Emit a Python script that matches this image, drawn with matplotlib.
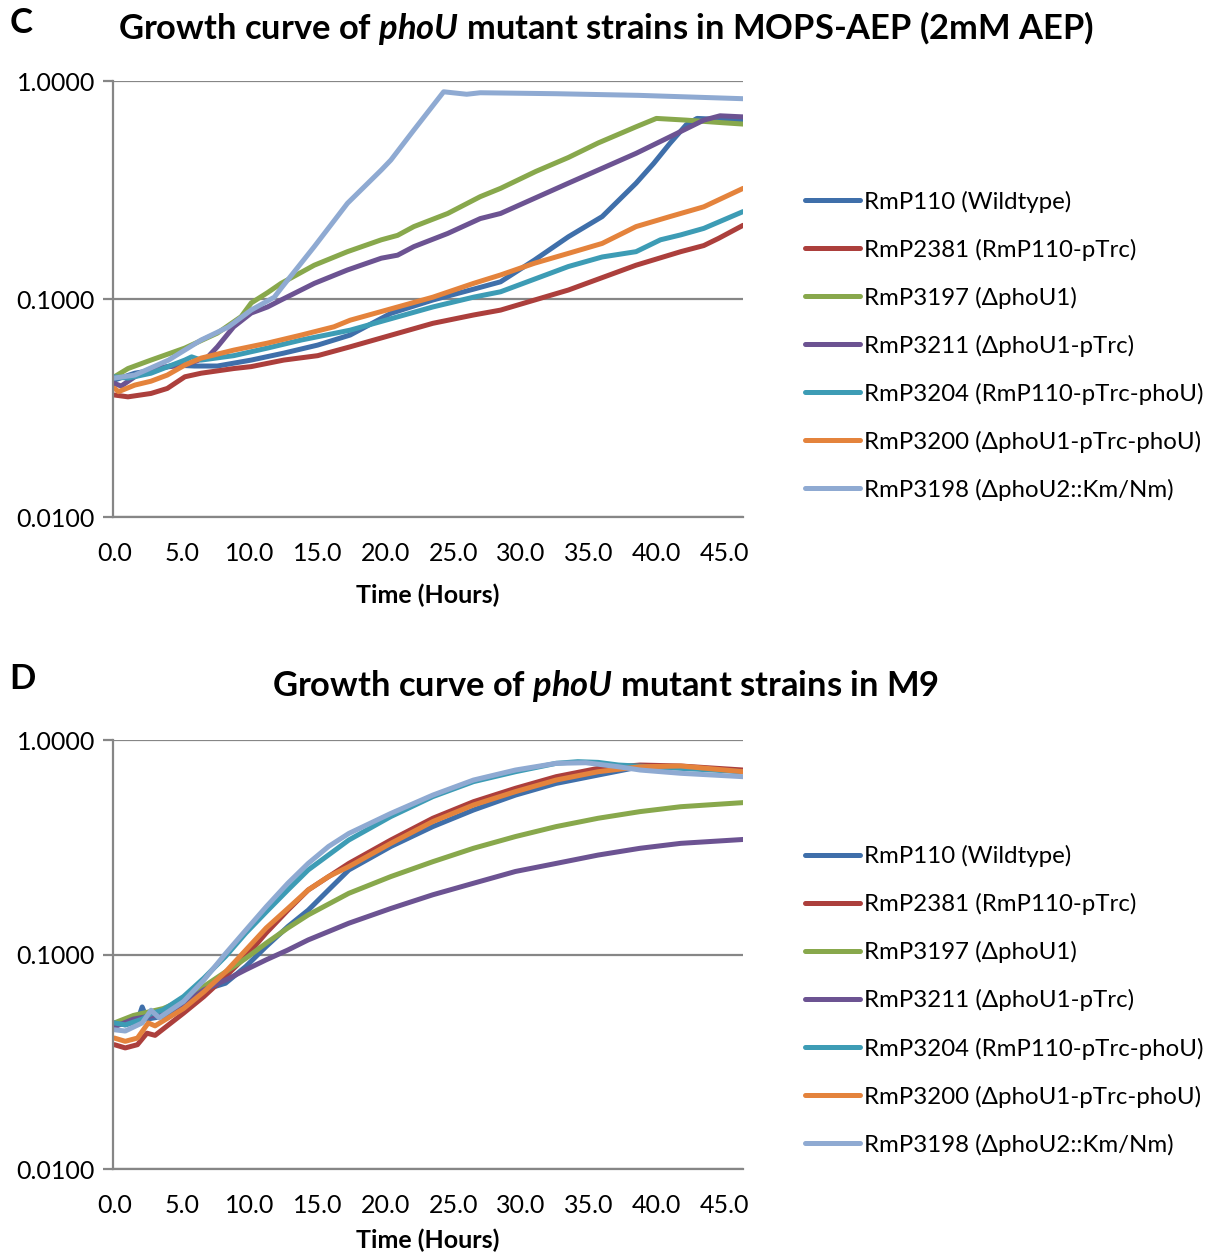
import matplotlib
matplotlib.use("Agg")
import matplotlib.pyplot as plt
from matplotlib.ticker import FixedLocator, FixedFormatter

plt.rcParams['font.family'] = ['Lato', 'DejaVu Sans']
plt.rcParams['mathtext.fontset'] = 'custom'
plt.rcParams['mathtext.it'] = 'Lato:italic:bold'

labels = ["RmP110 (Wildtype)", "RmP2381 (RmP110-pTrc)", "RmP3197 (\u0394phoU1)",
          "RmP3211 (\u0394phoU1-pTrc)", "RmP3204 (RmP110-pTrc-phoU)",
          "RmP3200 (\u0394phoU1-pTrc-phoU)", "RmP3198 (\u0394phoU2::Km/Nm)"]
colors = ["#3F6FAA", "#AC3F3C", "#88A84C", "#6C5392", "#3D9CB5", "#E4833C", "#8FAAD2"]

# ---- panel C: MOPS-AEP, OD600 vs time (h)
c_wt_t = [0, 1.5, 2.7, 4.4, 5.9, 7.6, 10.1, 12.5, 15, 17.4, 20.4, 23.5, 26.5, 28.5, 31, 33.5, 36, 38.5, 39.8, 41, 42.2, 43, 46.4]
c_wt_v = [0.0425, 0.0457, 0.047, 0.0498, 0.0493, 0.0493, 0.0525, 0.0565, 0.0615, 0.0684, 0.086, 0.099, 0.111, 0.12, 0.151, 0.193, 0.239, 0.34, 0.419, 0.518, 0.63, 0.674, 0.66]
c_2381_t = [0, 1, 2.7, 3.9, 5.2, 6.4, 8.8, 10.1, 12.5, 15, 17.4, 23.5, 26.5, 28.5, 33.5, 38.5, 41.8, 43.5, 44.6, 46.4]
c_2381_v = [0.0363, 0.0356, 0.0369, 0.0389, 0.044, 0.0457, 0.048, 0.049, 0.0525, 0.055, 0.0604, 0.0774, 0.0845, 0.089, 0.11, 0.143, 0.165, 0.176, 0.19, 0.218]
c_3197_t = [0, 1, 2.7, 5.2, 7.6, 9.35, 10.1, 11.3, 12.3, 14.75, 17.2, 19.7, 20.9, 22.1, 24.6, 27, 28.5, 31.1, 33.5, 35.7, 38.5, 40, 42.2, 44.9, 46.4]
c_3197_v = [0.044, 0.048, 0.0525, 0.0596, 0.0698, 0.083, 0.096, 0.107, 0.118, 0.143, 0.165, 0.187, 0.196, 0.215, 0.247, 0.295, 0.322, 0.385, 0.446, 0.52, 0.617, 0.674, 0.662, 0.644, 0.635]
c_3211_t = [0, 0.5, 1.5, 2.7, 5.2, 6.9, 7.6, 8.8, 10.1, 11.3, 12.3, 14.75, 17.2, 19.7, 20.9, 22.1, 24.6, 27, 28.5, 33.5, 38.5, 41, 43.5, 44.7, 46.4]
c_3211_v = [0.041, 0.0399, 0.044, 0.048, 0.0498, 0.0543, 0.0604, 0.0746, 0.0863, 0.092, 0.099, 0.118, 0.136, 0.154, 0.159, 0.174, 0.2, 0.234, 0.247, 0.34, 0.466, 0.555, 0.662, 0.693, 0.685]
c_3204_t = [0, 1, 2.7, 5.2, 5.7, 6.4, 8.8, 11.3, 13.8, 17.4, 23.5, 26.5, 28.5, 33.5, 36, 38.5, 40.3, 41.8, 43.5, 46.4]
c_3204_v = [0.044, 0.0434, 0.0457, 0.0525, 0.0543, 0.0525, 0.055, 0.0596, 0.0649, 0.072, 0.092, 0.102, 0.108, 0.141, 0.156, 0.165, 0.187, 0.197, 0.211, 0.252]
c_3200_t = [0, 0.3, 1.5, 2.7, 3.9, 5.2, 6.4, 8.8, 11.3, 13.8, 16.2, 17.4, 23.5, 26.5, 28.5, 31, 33.5, 36, 38.5, 41, 43.5, 46.4]
c_3200_v = [0.039, 0.0376, 0.0403, 0.042, 0.0448, 0.0498, 0.0536, 0.0583, 0.0628, 0.0684, 0.0746, 0.080, 0.102, 0.118, 0.129, 0.146, 0.162, 0.18, 0.215, 0.239, 0.265, 0.322]
c_3198_t = [0, 1.5, 4, 6.4, 8.4, 10.1, 11.8, 12.3, 14.75, 17.2, 19.7, 20.4, 22.1, 24.3, 26, 27, 32.6, 38.7, 46.4]
c_3198_v = [0.0434, 0.0448, 0.0525, 0.0649, 0.0744, 0.0891, 0.102, 0.112, 0.174, 0.275, 0.391, 0.434, 0.596, 0.893, 0.87, 0.884, 0.875, 0.86, 0.83]

# ---- panel D: M9
d_wt_t = [0, 0.8, 1.7, 2.05, 2.4, 3.6, 5.1, 6.6, 8.2, 9.7, 11.2, 12.8, 14.3, 15.8, 17.3, 20.4, 23.5, 26.5, 29.6, 32.6, 35.7, 38.8, 41.8, 46.4]
d_wt_v = [0.048, 0.047, 0.049, 0.057, 0.050, 0.0515, 0.058, 0.0684, 0.0735, 0.088, 0.109, 0.135, 0.161, 0.200, 0.248, 0.319, 0.395, 0.472, 0.554, 0.628, 0.687, 0.751, 0.751, 0.712]
d_2381_t = [0, 0.8, 1.7, 2.4, 3.0, 5.1, 6.6, 8.2, 9.7, 11.2, 12.8, 14.3, 17.3, 20.4, 23.5, 26.5, 29.6, 32.6, 35.7, 38.8, 41.8, 46.4]
d_2381_v = [0.038, 0.0367, 0.038, 0.043, 0.042, 0.0533, 0.0637, 0.079, 0.098, 0.126, 0.161, 0.200, 0.266, 0.342, 0.432, 0.516, 0.596, 0.675, 0.738, 0.765, 0.757, 0.725]
d_3197_t = [0, 1.4, 3.6, 5.1, 6.6, 8.2, 9.7, 11.2, 12.8, 14.3, 17.3, 20.4, 23.5, 26.5, 29.6, 32.6, 35.7, 38.8, 41.8, 46.4]
d_3197_v = [0.048, 0.052, 0.056, 0.0615, 0.071, 0.083, 0.096, 0.113, 0.133, 0.153, 0.193, 0.231, 0.271, 0.313, 0.355, 0.395, 0.432, 0.464, 0.489, 0.511]
d_3211_t = [0, 1.4, 3.6, 5.1, 6.6, 8.2, 9.7, 11.2, 12.8, 14.3, 17.3, 20.4, 23.5, 26.5, 29.6, 32.6, 35.7, 38.8, 41.8, 46.4]
d_3211_v = [0.046, 0.050, 0.053, 0.059, 0.0684, 0.076, 0.085, 0.0945, 0.105, 0.117, 0.140, 0.164, 0.190, 0.215, 0.244, 0.266, 0.291, 0.313, 0.330, 0.344]
d_3204_t = [0, 0.8, 2.05, 2.7, 3.6, 5.1, 6.6, 8.2, 9.7, 11.2, 12.8, 14.3, 17.3, 20.4, 23.5, 26.5, 29.6, 32.6, 34.2, 35.7, 37.2, 41.8, 46.4]
d_3204_v = [0.048, 0.047, 0.050, 0.053, 0.0552, 0.0637, 0.0776, 0.098, 0.126, 0.158, 0.200, 0.248, 0.342, 0.440, 0.545, 0.640, 0.712, 0.779, 0.793, 0.787, 0.765, 0.738, 0.712]
d_3200_t = [0, 0.8, 1.7, 2.5, 3.0, 5.1, 6.6, 8.2, 9.7, 11.2, 12.8, 14.3, 15.8, 17.3, 20.4, 23.5, 26.5, 29.6, 32.6, 35.7, 38.8, 41.8, 46.4]
d_3200_v = [0.0408, 0.0394, 0.0408, 0.048, 0.0465, 0.056, 0.067, 0.083, 0.105, 0.133, 0.164, 0.200, 0.231, 0.257, 0.330, 0.417, 0.498, 0.575, 0.651, 0.712, 0.751, 0.757, 0.712]
d_3198_t = [0, 0.8, 2.05, 2.7, 3.3, 5.1, 6.6, 8.2, 9.7, 11.2, 12.8, 14.3, 15.8, 17.3, 20.4, 23.5, 26.5, 29.6, 32.6, 34.8, 37.2, 38.8, 41.8, 46.4]
d_3198_v = [0.0446, 0.0440, 0.048, 0.055, 0.0507, 0.0604, 0.076, 0.101, 0.130, 0.167, 0.215, 0.266, 0.319, 0.367, 0.455, 0.554, 0.651, 0.725, 0.779, 0.784, 0.751, 0.725, 0.700, 0.675]

panel_c = [(c_wt_t, c_wt_v), (c_2381_t, c_2381_v), (c_3197_t, c_3197_v), (c_3211_t, c_3211_v),
           (c_3204_t, c_3204_v), (c_3200_t, c_3200_v), (c_3198_t, c_3198_v)]
panel_d = [(d_wt_t, d_wt_v), (d_2381_t, d_2381_v), (d_3197_t, d_3197_v), (d_3211_t, d_3211_v),
           (d_3204_t, d_3204_v), (d_3200_t, d_3200_v), (d_3198_t, d_3198_v)]

x_ticks = [0, 5, 10, 15, 20, 25, 30, 35, 40, 45]
y_ticks = [0.01, 0.1, 1.0]
grid_col = "#868686"


def draw_panel(ax, series, lab_pad):
    for (t, v), c, lab in zip(series, colors, labels):
        ax.plot(t, v, color=c, lw=3.6, label=lab, solid_capstyle='round', solid_joinstyle='round')
    ax.set_yscale('log')
    ax.set_ylim(0.01, 1.0)
    ax.set_xlim(-0.1, 46.4)
    ax.yaxis.set_major_locator(FixedLocator(y_ticks))
    ax.yaxis.set_major_formatter(FixedFormatter(["%.4f" % y for y in y_ticks]))
    ax.yaxis.set_minor_locator(FixedLocator([]))
    ax.set_xticks(x_ticks)
    ax.set_xticklabels(["%.1f" % x for x in x_ticks])
    ax.grid(axis='y', color=grid_col, lw=1.6)
    ax.set_axisbelow(True)
    for s in ['top', 'right']:
        ax.spines[s].set_visible(False)
    for s in ['left', 'bottom']:
        ax.spines[s].set_color(grid_col)
        ax.spines[s].set_linewidth(1.6)
    ax.tick_params(axis='y', length=7, width=1.6, color=grid_col, labelsize=18, pad=6)
    ax.tick_params(axis='x', length=0, labelsize=18, pad=18)
    ax.set_xlabel("Time (Hours)", fontsize=18, fontweight='bold', labelpad=lab_pad)
    ax.legend(loc='center left', bbox_to_anchor=(1.083, 0.393), frameon=False, fontsize=17.3,
              handlelength=2.3, handletextpad=0.15, labelspacing=1.08, borderaxespad=0)


fig = plt.figure(figsize=(12.17, 12.55), dpi=100)
ax1 = fig.add_axes([0.0929, 0.588, 0.5177, 0.3474])
ax2 = fig.add_axes([0.0929, 0.0685, 0.5177, 0.3418])
draw_panel(ax1, panel_c, 13)
draw_panel(ax2, panel_d, 8)

fig.text(0.008, 0.982, "C", fontsize=25, fontweight='bold', va='center')
fig.text(0.008, 0.459, "D", fontsize=25, fontweight='bold', va='center')
fig.text(0.498, 0.978, r"Growth curve of $\mathit{phoU}$ mutant strains in MOPS-AEP (2mM AEP)",
         fontsize=24.8, fontweight='bold', ha='center', va='center')
fig.text(0.498, 0.453, r"Growth curve of $\mathit{phoU}$ mutant strains in M9",
         fontsize=24.8, fontweight='bold', ha='center', va='center')

fig.savefig("out.png", dpi=100)
